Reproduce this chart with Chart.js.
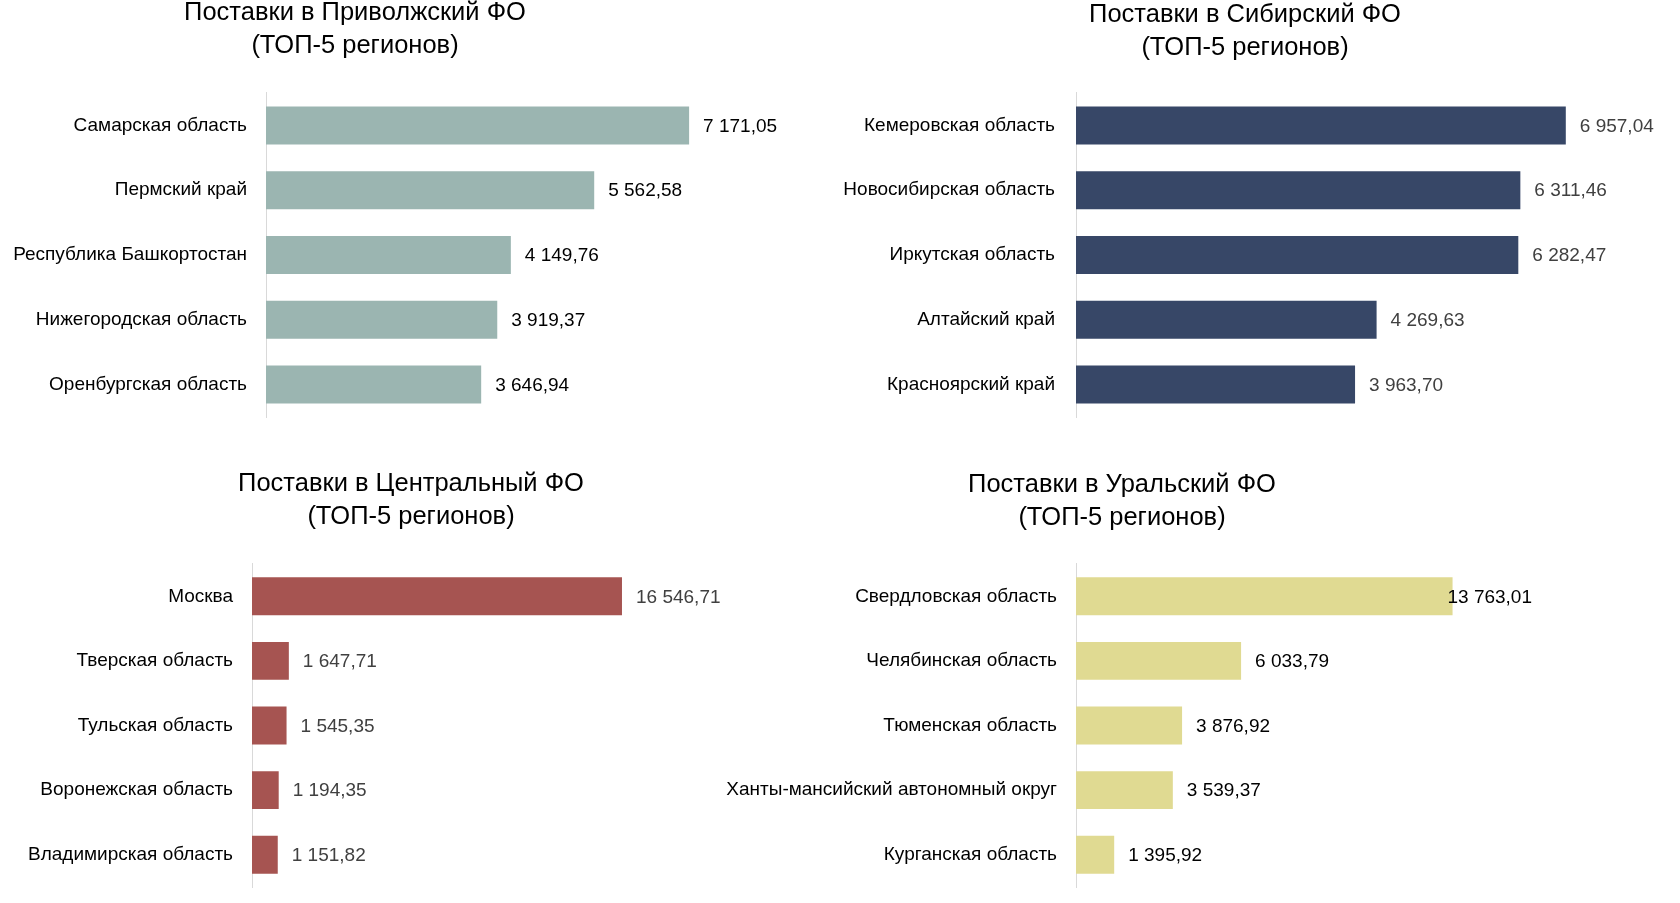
<!DOCTYPE html>
<html><head><meta charset="utf-8">
<script src="https://cdn.jsdelivr.net/npm/chart.js@4/dist/chart.umd.min.js"></script>
<style>
html,body{margin:0;padding:0;background:#fff;width:1680px;height:903px;overflow:hidden;}
canvas{position:absolute;}
</style></head><body>
<canvas id="c1" width="840" height="450" style="left:0px;top:0px"></canvas>
<canvas id="c2" width="840" height="450" style="left:840px;top:0px"></canvas>
<canvas id="c3" width="840" height="453" style="left:0px;top:450px"></canvas>
<canvas id="c4" width="980" height="453" style="left:700px;top:450px"></canvas>
<script>
// ---- data ----
const titleVolga = ['Поставки в Приволжский ФО', '(ТОП-5 регионов)'];
const catsVolga = ['Самарская область', 'Пермский край', 'Республика Башкортостан', 'Нижегородская область', 'Оренбургская область'];
const valsVolga = [7171.05, 5562.58, 4149.76, 3919.37, 3646.94];

const titleSiberia = ['Поставки в Сибирский ФО', '(ТОП-5 регионов)'];
const catsSiberia = ['Кемеровская область', 'Новосибирская область', 'Иркутская область', 'Алтайский край', 'Красноярский край'];
const valsSiberia = [6957.04, 6311.46, 6282.47, 4269.63, 3963.70];

const titleCentral = ['Поставки в Центральный ФО', '(ТОП-5 регионов)'];
const catsCentral = ['Москва', 'Тверская область', 'Тульская область', 'Воронежская область', 'Владимирская область'];
const valsCentral = [16546.71, 1647.71, 1545.35, 1194.35, 1151.82];

const titleUral = ['Поставки в Уральский ФО', '(ТОП-5 регионов)'];
const catsUral = ['Свердловская область', 'Челябинская область', 'Тюменская область', 'Ханты-мансийский автономный округ', 'Курганская область'];
const valsUral = [13763.01, 6033.79, 3876.92, 3539.37, 1395.92];

// ---- helpers ----
const FONT = '"Liberation Sans", Arial, sans-serif';
function fmt(v) {
  const parts = v.toFixed(2).split('.');
  return parts[0].replace(/\B(?=(\d{3})+(?!\d))/g, ' ') + ',' + parts[1];
}

const valueLabels = {
  id: 'valueLabels',
  afterDatasetsDraw(chart, args, opts) {
    const ctx = chart.ctx;
    const meta = chart.getDatasetMeta(0);
    const ds = chart.data.datasets[0];
    ctx.save();
    ctx.font = opts.size + 'px ' + FONT;
    ctx.fillStyle = opts.color;
    ctx.textBaseline = 'middle';
    ctx.textAlign = 'left';
    meta.data.forEach((bar, i) => {
      const txt = fmt(ds.data[i]);
      const w = ctx.measureText(txt).width;
      let x = bar.x + opts.gap;
      if (opts.limit) x = Math.min(x, opts.limit - w);
      ctx.fillText(txt, x, bar.y + 1);
    });
    ctx.restore();
  }
};

function makeChart(id, title, cats, vals, color, g) {
  return new Chart(document.getElementById(id), {
    type: 'bar',
    data: {
      labels: cats,
      datasets: [{ data: vals, backgroundColor: color, borderWidth: 0,
                   barPercentage: 0.587, categoryPercentage: 1 }]
    },
    options: {
      indexAxis: 'y',
      responsive: false,
      animation: false,
      events: [],
      layout: { padding: g.padding, autoPadding: false },
      scales: {
        x: { display: false, min: 0, max: g.max },
        y: {
          grid: { display: false, drawTicks: false },
          border: { display: true, color: '#d9d9d9', width: 1 },
          ticks: { color: '#000', padding: g.tickPad, font: { family: FONT, size: 19 } },
          afterFit(axis) { axis.width = g.yw; axis.paddingTop = 0; axis.paddingBottom = 0; }
        }
      },
      plugins: {
        legend: { display: false },
        tooltip: { enabled: false },
        title: {
          display: true, text: title, color: '#000',
          font: { family: FONT, size: 25.5, weight: 'normal', lineHeight: 1.294 },
          padding: { top: 0, bottom: g.titlePad }
        },
        valueLabels: { color: g.labelColor, gap: 14, size: 19, limit: g.limit }
      }
    },
    plugins: [valueLabels]
  });
}

makeChart('c1', titleVolga, catsVolga, valsVolga, '#9bb5b1',
  { padding: { top: -3.5, left: 0, right: 130, bottom: 33 }, titlePad: 30.5, yw: 266, tickPad: 19, max: 7525, labelColor: '#000' });
makeChart('c2', titleSiberia, catsSiberia, valsSiberia, '#374767',
  { padding: { top: -1.5, left: 0, right: 30, bottom: 33 }, titlePad: 28.5, yw: 236, tickPad: 21, max: 8153, labelColor: '#404040' });
makeChart('c3', titleCentral, catsCentral, valsCentral, '#a65451',
  { padding: { top: 17.8, left: 0, right: 18, bottom: 16 }, titlePad: 30.2, yw: 252, tickPad: 19, max: 25492, labelColor: '#404040' });
makeChart('c4', titleUral, catsUral, valsUral, '#e0da92',
  { padding: { top: 18.9, left: 0, right: 136, bottom: 16 }, titlePad: 29.1, yw: 376, tickPad: 19, max: 17105, labelColor: '#000', limit: 832 });
</script>
</body></html>
